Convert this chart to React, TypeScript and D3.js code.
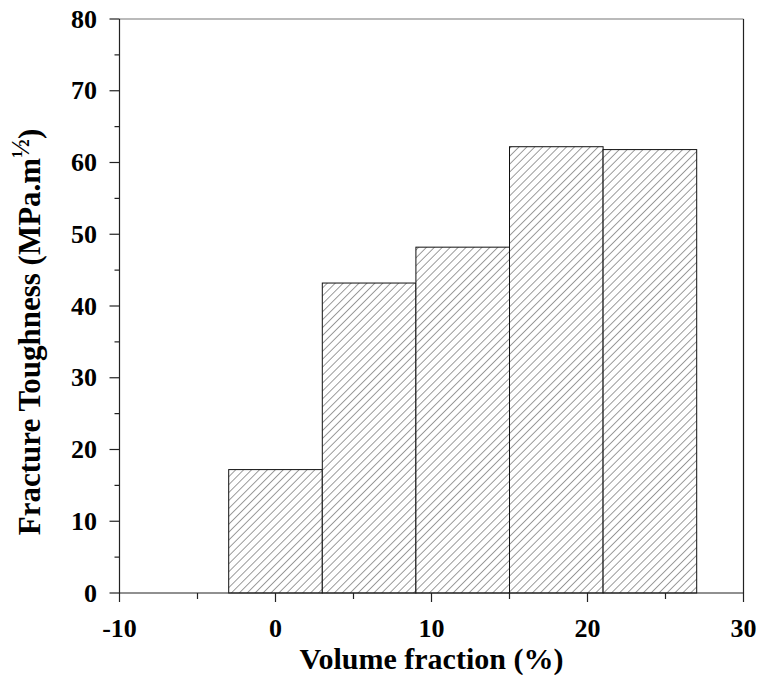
import React from "react";
import * as d3 from "d3";

const volumeFractions = [0, 6, 12, 18, 24];
const toughness = [17.2, 43.2, 48.2, 62.2, 61.8];
const barWidthUnits = 6;
const xTicks = [-10, 0, 10, 20, 30];
const xMinorTicks = [-5, 5, 15, 25];
const yTicks = [0, 10, 20, 30, 40, 50, 60, 70, 80];
const yMinorTicks = [5, 15, 25, 35, 45, 55, 65, 75];

const W = 760;
const H = 675;
const left = 119.5;
const right = 743.5;
const top = 19;
const bottom = 593;

export default function App() {
  const x = d3.scaleLinear().domain([-10, 30]).range([left, right]);
  const y = d3.scaleLinear().domain([0, 80]).range([bottom, top]);
  const font = "'Liberation Serif', 'Times New Roman', serif";
  return (
    <svg width={W} height={H} style={{ position: "absolute", left: 0, top: 0 }}>
      <defs>
        <pattern id="hatch" patternUnits="userSpaceOnUse" width={5.6} height={10} patternTransform="rotate(45)">
          <line x1={0} y1={-1} x2={0} y2={11} stroke="#3a3a3a" strokeWidth={1} />
        </pattern>
      </defs>
      <rect width={W} height={H} fill="#fff" />
      {volumeFractions.map((v, i) => {
        const x0 = x(v - barWidthUnits / 2);
        const x1 = x(v + barWidthUnits / 2);
        const yt = y(toughness[i]);
        return (
          <g key={i}>
            <rect x={x0} y={yt} width={x1 - x0} height={bottom - yt} fill="#fff" />
            <rect x={x0} y={yt} width={x1 - x0} height={bottom - yt} fill="url(#hatch)" stroke="#111" strokeWidth={1} />
          </g>
        );
      })}
      {/* frame */}
      <line x1={left} y1={top} x2={right} y2={top} stroke="#777" strokeWidth={1.2} />
      <line x1={right} y1={top} x2={right} y2={bottom} stroke="#222" strokeWidth={1.2} />
      <line x1={left} y1={top} x2={left} y2={bottom} stroke="#222" strokeWidth={1.2} />
      <line x1={left} y1={bottom} x2={right} y2={bottom} stroke="#222" strokeWidth={1.2} />
      {/* x ticks */}
      {xTicks.map((t) => (
        <line key={"xt" + t} x1={x(t)} x2={x(t)} y1={bottom} y2={bottom + 9} stroke="#222" strokeWidth={1.2} />
      ))}
      {xMinorTicks.map((t) => (
        <line key={"xm" + t} x1={x(t)} x2={x(t)} y1={bottom} y2={bottom + 6} stroke="#222" strokeWidth={1.2} />
      ))}
      {xTicks.map((t) => (
        <text key={"xl" + t} x={x(t)} y={637} textAnchor="middle" fontFamily={font} fontWeight="bold" fontSize={26}>
          {t}
        </text>
      ))}
      {/* y ticks */}
      {yTicks.map((t) => (
        <line key={"yt" + t} x1={left - 10} x2={left} y1={y(t)} y2={y(t)} stroke="#222" strokeWidth={1.2} />
      ))}
      {yMinorTicks.map((t) => (
        <line key={"ym" + t} x1={left - 5} x2={left} y1={y(t)} y2={y(t)} stroke="#222" strokeWidth={1.2} />
      ))}
      {yTicks.map((t) => (
        <text key={"yl" + t} x={97} y={y(t) + 8.5} textAnchor="end" fontFamily={font} fontWeight="bold" fontSize={26}>
          {t}
        </text>
      ))}
      <text x={(left + right) / 2} y={669} textAnchor="middle" fontFamily={font} fontWeight="bold" fontSize={30}>
        Volume fraction (%)
      </text>
      <text transform={`translate(40, 332) rotate(-90)`} textAnchor="middle" fontFamily={font} fontWeight="bold" fontSize={31}>
        Fracture Toughness (MPa.m
        <tspan dy={-11} fontSize={25}>½</tspan>
        <tspan dy={11}>)</tspan>
      </text>
    </svg>
  );
}
